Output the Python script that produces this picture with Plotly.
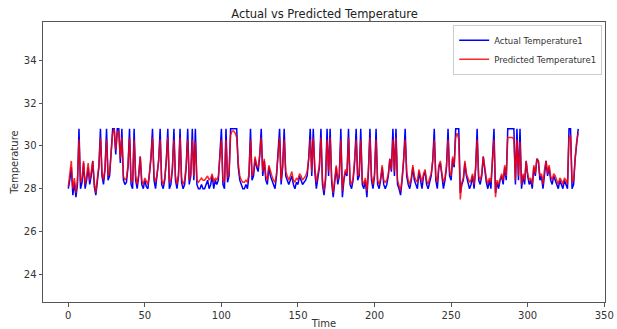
import plotly.graph_objects as go

actual = [
    28.0, 28.4, 29.0, 27.7, 28.3, 27.6, 28.2, 30.8, 28.0, 28.3,
    29.2, 28.0, 28.4, 29.0, 28.2, 28.6, 29.3, 28.1, 27.7, 28.4,
    29.0, 30.8, 28.6, 28.2, 28.9, 30.8, 28.4, 28.6, 29.5, 30.8,
    30.8, 29.6, 30.8, 30.8, 29.2, 30.8, 28.4, 28.2, 28.3, 29.0,
    30.8, 28.2, 28.0, 30.8, 28.4, 28.0, 28.6, 29.5, 28.2, 28.0,
    28.4, 28.1, 28.0, 28.6, 29.4, 30.8, 28.4, 28.0, 28.6, 29.3,
    30.8, 28.2, 28.0, 28.4, 29.3, 30.8, 28.0, 28.2, 28.9, 30.8,
    28.4, 28.0, 28.6, 30.8, 28.3, 28.0, 28.2, 29.0, 30.8, 28.2,
    28.6, 30.8, 28.4, 30.8, 28.2, 28.0, 28.0, 28.2, 28.0, 28.0,
    28.2, 28.4, 28.0, 28.2, 28.6, 28.0, 28.4, 28.2, 28.4, 29.4,
    30.8, 28.2, 28.0, 30.8, 28.3, 28.6, 30.8, 30.8, 30.8, 30.8,
    30.8, 29.0, 28.4, 28.2, 28.0, 28.0, 28.2, 28.0, 28.6, 30.8,
    28.4, 28.6, 29.4, 29.0, 28.8, 29.5, 30.8, 28.6, 29.3, 28.4,
    28.2, 29.0, 28.6, 28.4, 28.2, 28.0, 28.6, 29.5, 30.8, 28.2,
    29.0, 30.8, 28.6, 28.4, 28.2, 28.4, 28.6, 28.2, 28.0, 28.3,
    28.2, 28.6, 28.4, 28.2, 28.3, 28.4, 28.6, 29.4, 30.8, 28.6,
    30.8, 28.8, 28.0, 28.6, 29.0, 30.8, 28.2, 27.7, 28.4, 30.8,
    28.6, 30.8, 28.3, 27.6, 28.4, 29.0, 28.2, 28.6, 30.8, 27.6,
    28.4, 28.8, 28.6, 30.8, 28.2, 28.0, 28.4, 29.2, 30.8, 28.4,
    28.6, 30.8, 28.2, 28.0, 28.4, 27.6, 28.8, 30.8, 28.4, 28.0,
    28.6, 30.8, 28.2, 28.0, 28.4, 29.0, 28.2, 28.0, 28.2, 28.6,
    29.4, 28.8, 30.8, 28.6, 30.8, 28.2, 28.0, 27.7, 28.4, 29.3,
    30.8, 28.6, 28.2, 28.0, 28.4, 29.0, 28.4, 28.2, 28.0, 28.8,
    28.4, 28.0, 28.6, 28.8, 28.2, 28.0, 28.3, 28.6, 29.3, 30.8,
    28.4, 28.0, 29.0, 29.2, 28.6, 28.0, 28.4, 29.0, 30.8, 28.6,
    28.4, 29.4, 29.0, 30.8, 30.8, 30.8, 27.8, 28.2, 28.4, 29.2,
    28.6, 28.3, 28.0, 28.2, 28.6, 28.0, 28.9, 30.8, 28.4, 28.2,
    28.6, 29.5, 28.8, 28.3, 28.0, 28.4, 28.0, 29.3, 30.8, 27.8,
    28.3, 28.0, 28.4, 28.6, 28.2, 29.0, 28.4, 30.8, 30.8, 30.8,
    30.8, 30.8, 28.2, 30.8, 28.4, 30.8, 28.0, 28.6, 28.2, 29.3,
    28.6, 28.2, 28.4, 28.0, 29.0, 28.6, 29.4, 29.3, 28.4, 28.6,
    28.0, 28.8, 29.3, 28.6, 29.0, 28.4, 28.2, 28.6, 28.4, 28.2,
    28.0, 28.4, 28.2, 28.0, 28.4, 28.2, 28.0, 30.8, 30.8, 28.0,
    28.2, 29.4, 30.2, 30.8,
]

predicted = [
    28.1, 28.6, 29.3, 28.0, 28.5, 27.8, 28.4, 30.3, 28.3, 28.5,
    29.3, 28.2, 28.6, 29.2, 28.4, 28.8, 29.3, 28.3, 27.8, 28.5,
    29.1, 30.4, 28.8, 28.4, 29.0, 30.3, 28.6, 28.8, 29.6, 30.6,
    30.8, 29.8, 30.6, 30.7, 29.4, 30.4, 28.6, 28.4, 28.5, 29.1,
    30.4, 28.4, 28.3, 30.3, 28.6, 28.2, 28.7, 29.5, 28.4, 28.2,
    28.5, 28.3, 28.2, 28.7, 29.4, 30.4, 28.6, 28.3, 28.7, 29.3,
    30.3, 28.4, 28.2, 28.5, 29.3, 30.4, 28.3, 28.4, 29.0, 30.3,
    28.6, 28.2, 28.7, 30.4, 28.5, 28.2, 28.4, 29.1, 30.3, 28.4,
    28.7, 30.3, 28.6, 30.2, 28.4, 28.3, 28.4, 28.5, 28.4, 28.4,
    28.5, 28.6, 28.4, 28.5, 28.7, 28.3, 28.5, 28.4, 28.6, 29.4,
    30.3, 28.4, 28.3, 30.3, 28.5, 28.8, 30.5, 30.7, 30.7, 30.6,
    30.4, 29.2, 28.6, 28.4, 28.3, 28.3, 28.4, 28.3, 28.7, 30.3,
    28.6, 28.8, 29.5, 29.1, 29.0, 29.6, 30.4, 28.8, 29.4, 28.6,
    28.4, 29.1, 28.8, 28.6, 28.4, 28.3, 28.7, 29.5, 30.4, 28.4,
    29.1, 30.3, 28.8, 28.6, 28.4, 28.6, 28.8, 28.4, 28.3, 28.5,
    28.4, 28.7, 28.6, 28.4, 28.5, 28.6, 28.8, 29.4, 30.3, 28.8,
    30.4, 29.0, 28.3, 28.7, 29.1, 30.4, 28.4, 27.9, 28.5, 30.3,
    28.8, 30.4, 28.5, 27.8, 28.5, 29.1, 28.4, 28.7, 30.3, 27.9,
    28.5, 28.9, 28.7, 30.4, 28.4, 28.2, 28.5, 29.3, 30.3, 28.6,
    28.7, 30.3, 28.4, 28.2, 28.5, 27.9, 28.9, 30.4, 28.6, 28.2,
    28.7, 30.3, 28.4, 28.2, 28.5, 29.1, 28.4, 28.3, 28.4, 28.7,
    29.4, 28.9, 30.3, 28.8, 30.4, 28.4, 28.2, 27.9, 28.5, 29.3,
    30.3, 28.8, 28.4, 28.2, 28.5, 29.1, 28.6, 28.4, 28.3, 28.9,
    28.6, 28.3, 28.7, 28.9, 28.4, 28.2, 28.5, 28.7, 29.3, 30.3,
    28.6, 28.3, 29.1, 29.3, 28.7, 28.3, 28.5, 29.1, 30.3, 28.8,
    28.6, 29.5, 29.1, 30.4, 30.6, 30.3, 27.5, 28.3, 28.5, 29.3,
    28.7, 28.5, 28.3, 28.4, 28.7, 28.2, 29.0, 30.3, 28.6, 28.4,
    28.7, 29.5, 28.9, 28.5, 28.2, 28.5, 28.3, 29.3, 30.3, 27.6,
    28.4, 28.2, 28.5, 28.7, 28.4, 29.1, 28.6, 30.4, 30.4, 30.4,
    30.4, 30.3, 28.4, 30.3, 28.6, 30.2, 28.2, 28.7, 28.4, 29.3,
    28.7, 28.4, 28.5, 28.2, 29.1, 28.7, 29.4, 29.3, 28.6, 28.7,
    28.2, 28.9, 29.3, 28.7, 29.1, 28.6, 28.4, 28.7, 28.6, 28.4,
    28.2, 28.5, 28.4, 28.2, 28.5, 28.4, 28.2, 30.4, 30.5, 28.3,
    28.4, 29.4, 30.2, 30.6,
]

time = list(range(len(actual)))

x_ticks = [0, 50, 100, 150, 200, 250, 300, 350]
y_ticks = [24, 26, 28, 30, 32, 34]

fig = go.Figure()
fig.add_trace(go.Scatter(x=time, y=actual, mode="lines", name="Actual Temperature1",
                         line=dict(color="#0000ff", width=1.5)))
fig.add_trace(go.Scatter(x=time, y=predicted, mode="lines", name="Predicted Temperature1",
                         line=dict(color="rgba(255,0,0,0.85)", width=1.5)))

axis_common = dict(showgrid=False, zeroline=False, showline=True, linecolor="#555555",
                   linewidth=1, mirror=True, ticks="outside", ticklen=3.5,
                   tickcolor="#555555", tickfont=dict(size=10, color="#333333"),
                   automargin=False)

fig.update_layout(
    width=617, height=329,
    margin=dict(l=43, r=12, t=22, b=27),
    paper_bgcolor="white", plot_bgcolor="white",
    font=dict(family="DejaVu Sans", color="#333333"),
    title=dict(text="Actual vs Predicted Temperature", x=0.526, xanchor="center",
               y=0.958, yanchor="middle", font=dict(size=11.5, color="#222222"),
               automargin=False),
    showlegend=True,
    legend=dict(x=0.995, y=0.99, xanchor="right", yanchor="top",
                bordercolor="#cccccc", borderwidth=1, bgcolor="rgba(255,255,255,0.8)",
                font=dict(size=8.5, color="#333333"), tracegroupgap=0, itemwidth=30),
)
fig.update_xaxes(range=[-16.5, 350.5], tickvals=x_ticks, **axis_common,
                 title=dict(text="Time", font=dict(size=10), standoff=2))
fig.update_yaxes(range=[22.7, 35.8], tickvals=y_ticks, **axis_common,
                 title=dict(text="Temperature", font=dict(size=10), standoff=3))

fig.write_html("out.html",
               config={"displayModeBar": False},
               post_script="document.body.style.margin='0';document.body.style.overflow='hidden';")
